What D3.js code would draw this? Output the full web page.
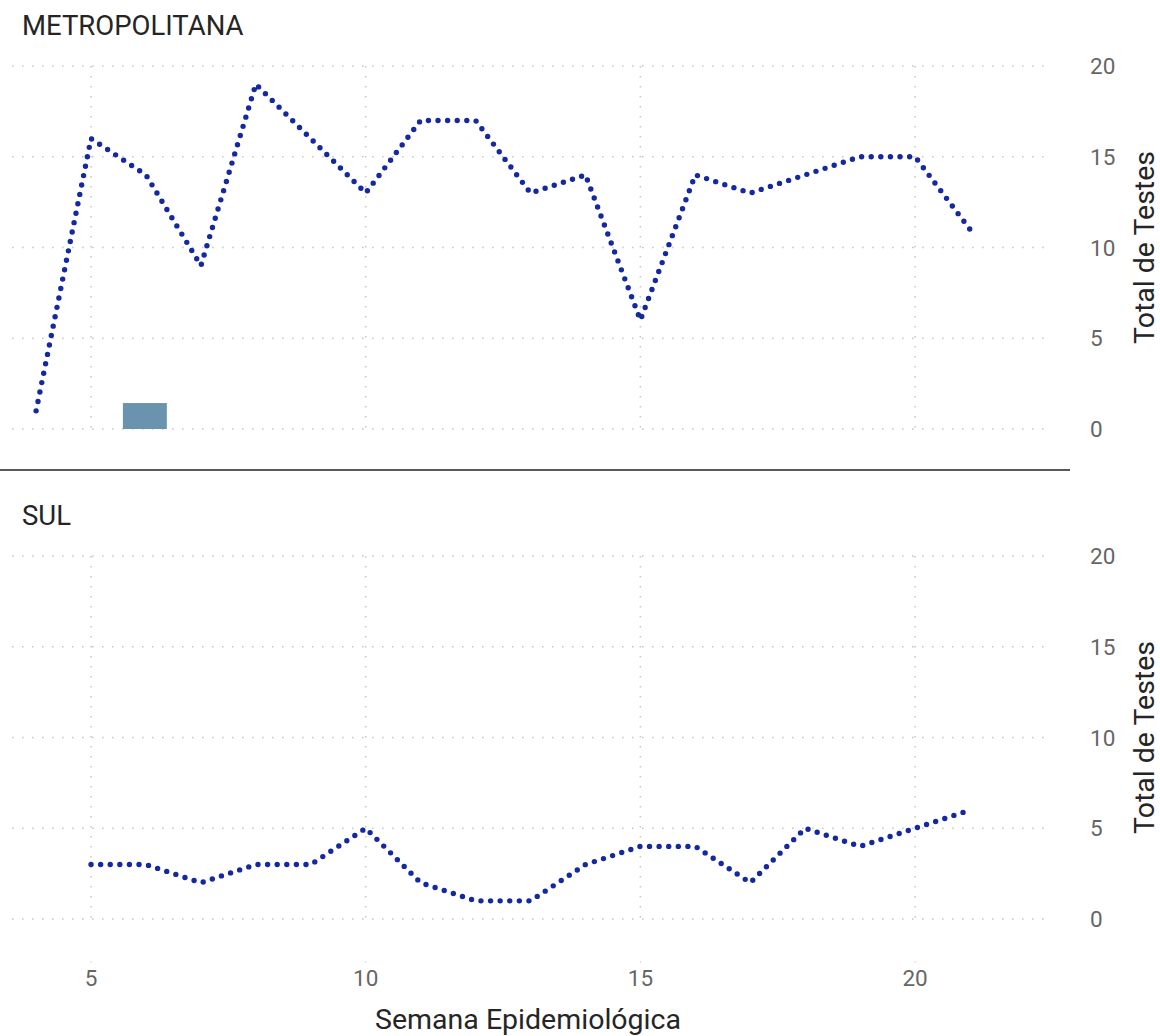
<!DOCTYPE html>
<html><head><meta charset="utf-8">
<script src="https://cdn.jsdelivr.net/npm/d3@7"></script>
<style>
body{margin:0;background:#fff;}
svg{display:block;font-family:Roboto, "DejaVu Sans", sans-serif;}
</style></head>
<body><svg id="c" width="1160" height="1036"></svg>
<script>
const weeks = [4,5,6,7,8,9,10,11,12,13,14,15,16,17,18,19,20,21];
const metroValues = [1,16,14,9,19,16,13,17,17,13,14,6,14,13,14,15,15,11];
const sulWeeks = [5,6,7,8,9,10,11,12,13,14,15,16,17,18,19,20,21];
const sulValues = [3,3,2,3,3,5,2,1,1,3,4,4,2,5,4,5,6];
const xTicks = [5,10,15,20];
const yTicks = [0,5,10,15,20];
const panelTitles = ["METROPOLITANA","SUL"];
const yTitle = "Total de Testes";
const xTitle = "Semana Epidemiológica";
// small shaded block visible in the top panel (week range, value height)
const blockWeeks = [5.58, 6.38];
const blockValue = 1.43;

const svg = d3.select("#c");
const x = d3.scaleLinear().domain([4,21]).range([36.1, 970.0]);
const panels = [
  {title: panelTitles[0], xs: weeks, ys: metroValues, y0: 429, y1: 66, titleY: 35},
  {title: panelTitles[1], xs: sulWeeks, ys: sulValues, y0: 919, y1: 556, titleY: 525}
];
const gridColor = "#c8c8c8";
panels.forEach((p, i) => {
  const y = d3.scaleLinear().domain([0,20]).range([p.y0, p.y1]);
  const g = svg.append("g");
  g.selectAll("line.h").data(yTicks).join("line")
    .attr("x1", 12).attr("x2", 1046)
    .attr("y1", d => y(d)).attr("y2", d => y(d))
    .attr("stroke", gridColor).attr("stroke-width", 1.6)
    .attr("stroke-dasharray", "1.6 8.4");
  g.selectAll("line.v").data(xTicks).join("line")
    .attr("x1", d => x(d)).attr("x2", d => x(d))
    .attr("y1", y(20)).attr("y2", y(0))
    .attr("stroke", gridColor).attr("stroke-width", 1.6)
    .attr("stroke-dasharray", "1.6 8.4");
  g.selectAll("text.yt").data(yTicks).join("text")
    .attr("x", 1090).attr("y", d => y(d) + 8)
    .attr("fill", "#666").attr("font-size", 22.5)
    .text(d => d);
  const cy = (y(20) + y(0)) / 2;
  g.append("text")
    .attr("transform", `translate(1154,${cy}) rotate(-90)`)
    .attr("text-anchor", "middle").attr("fill", "#252525").attr("font-size", 27)
    .attr("textLength", 193).attr("lengthAdjust", "spacingAndGlyphs")
    .text(yTitle);
  g.append("text").attr("x", 22).attr("y", p.titleY)
    .attr("fill", "#252525").attr("font-size", 27.5).text(p.title);
  if (i === 0) {
    g.append("rect")
      .attr("x", x(blockWeeks[0])).attr("width", x(blockWeeks[1]) - x(blockWeeks[0]))
      .attr("y", y(blockValue)).attr("height", y(0) - y(blockValue))
      .attr("fill", "#6a93ae");
  }
  const line = d3.line().x(d => x(d[0])).y(d => y(d[1]));
  g.append("path")
    .attr("d", line(p.xs.map((w, k) => [w, p.ys[k]])))
    .attr("fill", "none").attr("stroke", "#1428a0").attr("stroke-width", 5.4)
    .attr("stroke-linecap", "round").attr("stroke-linejoin", "round")
    .attr("stroke-dasharray", "0 9.6");
});
svg.append("line").attr("x1", 0).attr("x2", 1070).attr("y1", 470).attr("y2", 470)
  .attr("stroke", "#222").attr("stroke-width", 1.5);
svg.selectAll("text.xt").data(xTicks).join("text")
  .attr("x", d => x(d)).attr("y", 986).attr("text-anchor", "middle")
  .attr("fill", "#666").attr("font-size", 22.5).text(d => d);
svg.selectAll("line.xtk").data(xTicks).join("line")
  .attr("x1", d => x(d)).attr("x2", d => x(d)).attr("y1", 961).attr("y2", 962.5)
  .attr("stroke", "#ccc").attr("stroke-width", 1);
svg.append("text").attr("x", 528).attr("y", 1029).attr("text-anchor", "middle")
  .attr("fill", "#252525").attr("font-size", 28.5).text(xTitle);
</script></body></html>
